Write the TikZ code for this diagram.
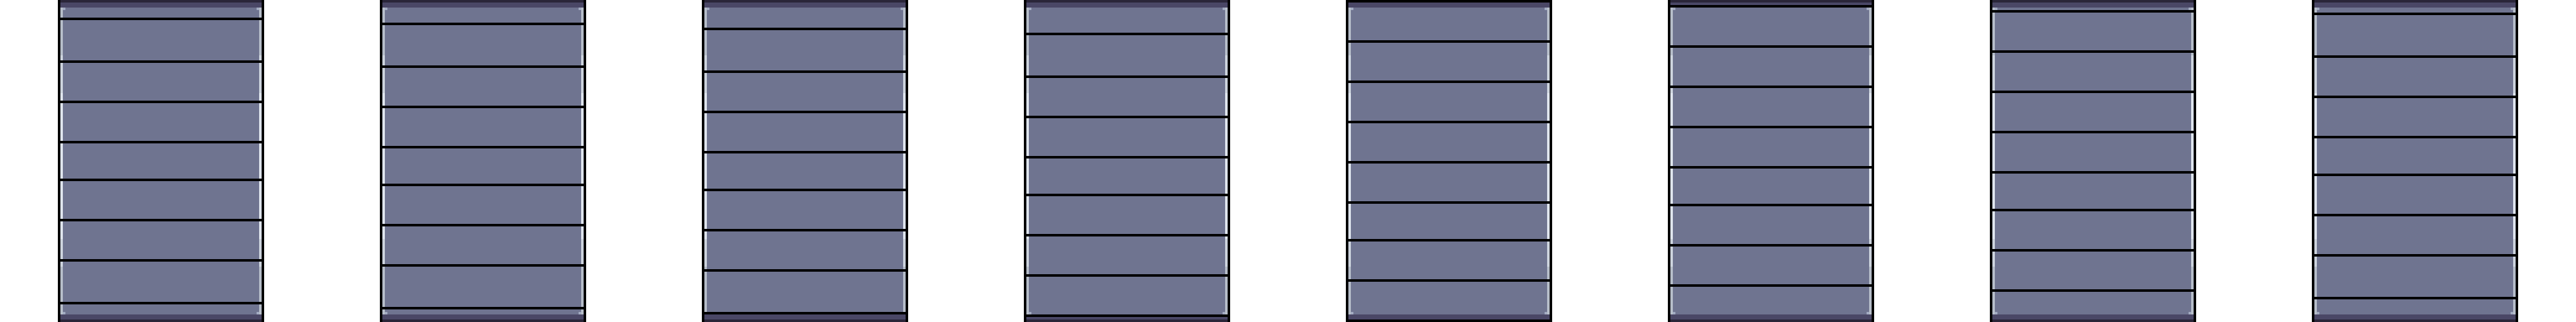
\documentclass[tikz,border=0pt]{standalone}
\definecolor{panelfill}{HTML}{6F7490}
\definecolor{capdark}{HTML}{2A2639}
\definecolor{capmid}{HTML}{4A4766}
\definecolor{stripgray}{HTML}{B6BDC9}
\definecolor{striplight}{HTML}{CCD3DD}
\definecolor{stripwhite}{HTML}{DEE4ED}
\definecolor{cornerhl}{HTML}{A3ABC2}
\tikzset{
  px/.style={fill=#1, draw=none},
}
\begin{document}
\begin{tikzpicture}[x=1pt,y=-1pt]
\useasboundingbox (0,0) rectangle (1024,128);
\fill[white] (0,0) rectangle (1024,128);
\foreach \k/\L in {
  0/{7,24,40,56,71,87,103,120},
  1/{9,26,42,58,73,89,105,122},
  2/{11,28,44,60,75,91,107,124},
  3/{13,30,46,62,77,93,109,125},
  4/{0,16,32,48,64,80,95,111,127},
  5/{2,18,34,50,66,81,97,113},
  6/{4,20,36,52,68,83,99,115},
  7/{5,22,38,54,69,85,101,118}}{
  \pgfmathsetmacro{\xa}{23+128*\k}
  % border and body
  \path[px=black] (\xa,0) rectangle ++(82,128);
  \path[px=panelfill] (\xa+1,0) rectangle ++(80,128);
  % caps
  \path[px=capdark] (\xa+1,0) rectangle ++(80,1);
  \path[px=capmid] (\xa+1,1) rectangle ++(80,2);
  \path[px=capmid] (\xa+1,125) rectangle ++(80,2);
  \path[px=capdark] (\xa+1,127) rectangle ++(80,1);
  % side highlight strips
  \foreach \c in {1,80}{
    \path[px=stripgray] (\xa+\c,3) rectangle ++(1,19);
    \path[px=striplight] (\xa+\c,22) rectangle ++(1,15);
    \path[px=stripwhite] (\xa+\c,37) rectangle ++(1,58);
    \path[px=striplight] (\xa+\c,95) rectangle ++(1,11);
    \path[px=stripgray] (\xa+\c,106) rectangle ++(1,19);
  }
  % corner highlights
  \foreach \c in {2,79}{
    \path[px=cornerhl] (\xa+\c,3) rectangle ++(1,1);
    \path[px=cornerhl] (\xa+\c,124) rectangle ++(1,1);
  }
  % slat lines
  \foreach \r in \L {
    \path[px=black] (\xa,\r) rectangle ++(82,1);
  }
}
\end{tikzpicture}
\end{document}
